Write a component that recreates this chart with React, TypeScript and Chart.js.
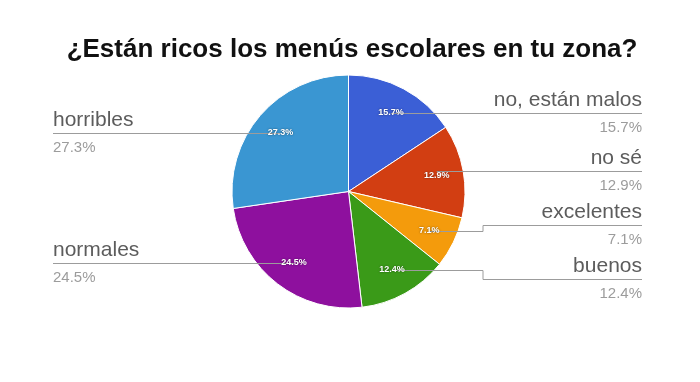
import React, { useEffect, useRef } from "react";
import { Chart, registerables } from "chart.js";

Chart.register(...registerables);

const TITLE = "¿Están ricos los menús escolares en tu zona?";
const LABELS = ["no, están malos", "no sé", "excelentes", "buenos", "normales", "horribles"];
const VALUES = [15.7, 12.9, 7.1, 12.4, 24.5, 27.3];
const COLORS = ["#3b5fd6", "#d23e12", "#f49b0c", "#3a9a18", "#8e109e", "#3a96d2"];

const FONT = '"Liberation Sans", Arial, Helvetica, sans-serif';

const labelPlugin = {
  id: "googleLabels",
  afterDraw(chart: any) {
    const ctx = chart.ctx as CanvasRenderingContext2D;
    const meta = chart.getDatasetMeta(0);
    const arcs = meta.data as any[];
    if (!arcs.length) return;
    const cx = arcs[0].x;
    const cy = arcs[0].y;
    const R = arcs[0].outerRadius;

    type Item = { i: number; ax: number; ay: number; right: boolean; ly: number };
    const items: Item[] = arcs.map((a: any, i: number) => {
      const mid = (a.startAngle + a.endAngle) / 2;
      const r = R * 0.77;
      const ax = cx + Math.cos(mid) * r;
      const ay = cy + Math.sin(mid) * r;
      return { i, ax, ay, right: Math.cos(mid) >= 0, ly: ay };
    });

    const relax = (list: Item[], gap: number) => {
      list.sort((a, b) => a.ay - b.ay);
      for (let iter = 0; iter < 20; iter++) {
        for (let k = 1; k < list.length; k++) {
          const d = list[k].ly - list[k - 1].ly;
          if (d < gap) {
            const s = (gap - d) / 2;
            list[k - 1].ly -= s;
            list[k].ly += s;
          }
        }
      }
    };
    const rightItems = items.filter((t) => t.right);
    const leftItems = items.filter((t) => !t.right);
    relax(rightItems, 54);
    relax(leftItems, 54);

    const rightX = chart.width - 58;
    const leftX = 53;
    const elbowR = cx + R + 18;
    const elbowL = cx - R - 18;
    const straightTol = 4.7;

    ctx.save();
    // leader lines
    ctx.strokeStyle = "#9c9c9c";
    ctx.lineWidth = 1;
    const py = (v: number) => Math.round(v) + 0.5;
    for (const t of items) {
      ctx.beginPath();
      if (t.right) {
        if (Math.abs(t.ly - t.ay) < straightTol) {
          ctx.moveTo(t.ax, py(t.ly));
          ctx.lineTo(rightX, py(t.ly));
        } else {
          ctx.moveTo(t.ax, py(t.ay));
          ctx.lineTo(elbowR, py(t.ay));
          ctx.lineTo(elbowR, py(t.ly));
          ctx.lineTo(rightX, py(t.ly));
        }
      } else {
        if (Math.abs(t.ly - t.ay) < straightTol) {
          ctx.moveTo(leftX, py(t.ly));
          ctx.lineTo(t.ax, py(t.ly));
        } else {
          ctx.moveTo(leftX, py(t.ly));
          ctx.lineTo(elbowL, py(t.ly));
          ctx.lineTo(elbowL, py(t.ay));
          ctx.lineTo(t.ax, py(t.ay));
        }
      }
      ctx.stroke();
    }

    // slice percentages
    ctx.font = `bold 9px ${FONT}`;
    ctx.textAlign = "center";
    ctx.textBaseline = "middle";
    for (const t of items) {
      ctx.save();
      ctx.shadowColor = "rgba(0,0,0,0.55)";
      ctx.shadowBlur = 2;
      ctx.fillStyle = "#ffffff";
      ctx.fillText(VALUES[t.i].toFixed(1) + "%", t.ax, t.ay);
      ctx.restore();
    }

    // outside labels
    ctx.textBaseline = "alphabetic";
    for (const t of items) {
      ctx.textAlign = t.right ? "right" : "left";
      const x = t.right ? rightX : leftX;
      ctx.font = `21px ${FONT}`;
      ctx.fillStyle = "#5c5c5c";
      ctx.fillText(LABELS[t.i], x, t.ly - 7);
      ctx.font = `15px ${FONT}`;
      ctx.fillStyle = "#9c9c9c";
      ctx.fillText(VALUES[t.i].toFixed(1) + "%", x, t.ly + 19);
    }

    // title
    ctx.font = `bold 26px ${FONT}`;
    ctx.fillStyle = "#111111";
    ctx.textAlign = "center";
    ctx.fillText(TITLE, 352, 57);
    ctx.restore();
  },
};

export default function App() {
  const ref = useRef<HTMLCanvasElement | null>(null);
  useEffect(() => {
    if (!ref.current) return;
    const chart = new Chart(ref.current, {
      type: "pie",
      data: {
        labels: LABELS,
        datasets: [
          {
            data: VALUES,
            backgroundColor: COLORS,
            borderColor: "#ffffff",
            borderWidth: 1,
            radius: 116.5,
          } as any,
        ],
      },
      options: {
        responsive: false,
        animation: false,
        devicePixelRatio: 1,
        layout: { padding: { left: 232, right: 235, top: 75, bottom: 74 } },
        plugins: {
          legend: { display: false },
          title: { display: false },
          tooltip: { enabled: false },
        },
      },
      plugins: [labelPlugin],
    });
    return () => chart.destroy();
  }, []);
  return (
    <div style={{ position: "fixed", left: 0, top: 0, width: 700, height: 382, background: "#fff" }}>
      <canvas ref={ref} width={700} height={382} />
    </div>
  );
}
